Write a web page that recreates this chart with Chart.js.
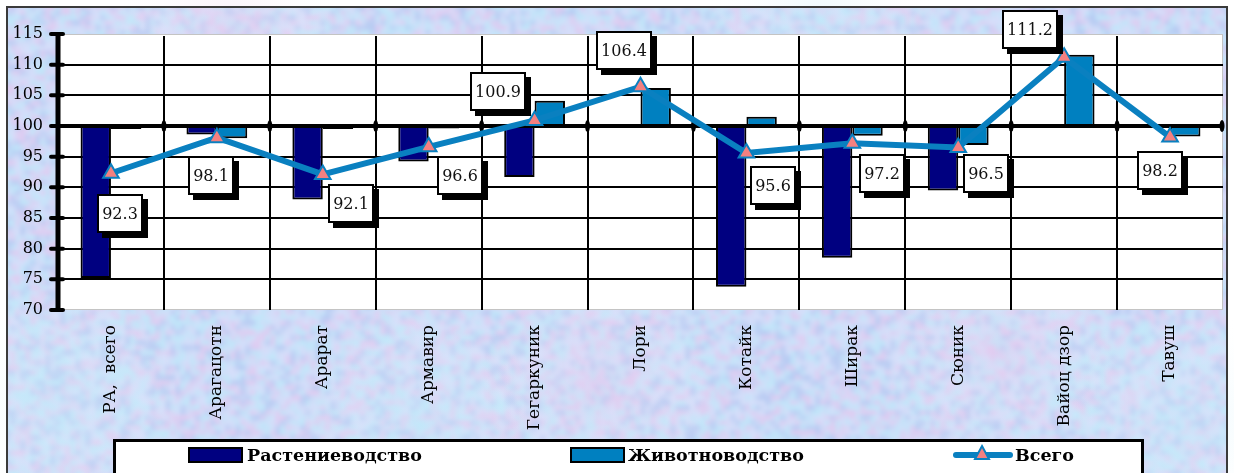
<!DOCTYPE html>
<html><head><meta charset="utf-8">
<script src="https://cdn.jsdelivr.net/npm/chart.js@4"></script>
<style>html,body{margin:0;padding:0;background:#fff;} #wrap{width:1234px;height:473px;overflow:hidden;}</style>
</head><body><div id="wrap"><canvas id="c" width="1234" height="473"></canvas></div>
<script>
// ---- data ----
const categories = ['РА,  всего','Арагацотн','Арарат','Армавир','Гегаркуник','Лори','Котайк','Ширак','Сюник','Вайоц дзор','Тавуш'];
const cropValues = [75.2, 98.6, 88.0, 94.2, 91.7, 100.3, 73.8, 78.5, 89.5, 100.0, 100.0];
const livestockValues = [99.5, 98.0, 99.5, 99.6, 104.1, 106.2, 101.5, 98.4, 96.9, 111.6, 98.3];
const totalValues = [92.3, 98.1, 92.1, 96.6, 100.9, 106.4, 95.6, 97.2, 96.5, 111.2, 98.2];
const yTicks = [70, 75, 80, 85, 90, 95, 100, 105, 110, 115];
const baseValue = 100;
const seriesNames = ['Растениеводство', 'Животноводство', 'Всего'];

// ---- styles ----
const cropColor = '#000080';
const livestockColor = '#0080C0';
const lineColor = '#0A80C0';
const markerColor = '#F48080';
const serif = 'DejaVu Serif';
// label box shift relative to each point (px)
const labelShift = [[9,40],[-6,38],[28,29],[31,29],[-37,-29],[-17,-36],[27,33],[30,30],[28,26],[-34,-28],[-10,33]];

function hash(x, y){ const s = Math.sin(x*127.1 + y*311.7)*43758.5453; return s - Math.floor(s); }
function makeTexture(W, H){
  const t = document.createElement('canvas'); t.width = W; t.height = H;
  const c = t.getContext('2d');
  c.fillStyle = '#C8D8F4'; c.fillRect(0,0,W,H);
  for (let y=0; y<H; y+=5) for (let x=0; x<W; x+=5){
    const h = hash(x,y), g = hash(y+7,x+3);
    let col;
    if (h < 0.22) col = 'rgba(226,202,240,0.6)';
    else if (h < 0.48) col = 'rgba(192,232,250,0.6)';
    else if (h < 0.66) col = 'rgba(180,200,242,0.5)';
    else col = 'rgba(214,224,250,0.45)';
    c.fillStyle = col; c.fillRect(x, y, 5 + Math.round(g*6), 5 + Math.round(h*5));
  }
  return t;
}

const decor = {
  id: 'decor',
  beforeDraw(chart){
    const {ctx, chartArea:a, width, height} = chart;
    ctx.save();
    ctx.fillStyle = '#fff'; ctx.fillRect(0,0,width,height);
    ctx.fillStyle = '#C8D8F4'; ctx.fillRect(8,8,width-16,height-8);
    ctx.save();
    ctx.beginPath(); ctx.rect(8,8,width-16,height-8); ctx.clip();
    ctx.filter = 'blur(2px)';
    ctx.drawImage(makeTexture(width+20, height+20), -10, -10);
    ctx.filter = 'none';
    ctx.restore();
    const blobs = [[230,40,'rgba(232,200,236,0.35)'],[600,380,'rgba(232,200,236,0.3)'],[1000,350,'rgba(232,200,236,0.3)'],[60,400,'rgba(196,236,250,0.35)'],[820,20,'rgba(196,236,250,0.3)'],[1180,420,'rgba(196,236,250,0.35)'],[420,420,'rgba(196,236,250,0.3)']];
    blobs.forEach(([bx,by,c])=>{ const g = ctx.createRadialGradient(bx,by,0,bx,by,120); g.addColorStop(0,c); g.addColorStop(1,'rgba(255,255,255,0)'); ctx.fillStyle=g; ctx.fillRect(bx-120,by-120,240,240); });
    ctx.strokeStyle = '#3a3a3a'; ctx.lineWidth = 2;
    ctx.strokeRect(7, 7, width-14, height);
    ctx.fillStyle = '#fff'; ctx.fillRect(a.left, a.top, a.width, a.height);
    ctx.strokeStyle = '#c4c4c4'; ctx.lineWidth = 1;
    ctx.strokeRect(a.left+0.5, a.top+0.5, a.width-1, a.height-1);
    ctx.restore();
  },
  beforeDatasetsDraw(chart){
    const {ctx, chartArea:a, scales:{x, y}} = chart;
    ctx.save();
    ctx.strokeStyle = '#000'; ctx.lineWidth = 2;
    yTicks.forEach(v => {
      if (v === y.min || v === y.max || v === baseValue) return;
      const py = Math.round(y.getPixelForValue(v));
      ctx.beginPath(); ctx.moveTo(a.left, py); ctx.lineTo(a.right, py); ctx.stroke();
    });
    for (let i = 1; i < categories.length; i++){
      const px = Math.round((x.getPixelForValue(i-1) + x.getPixelForValue(i))/2);
      ctx.beginPath(); ctx.moveTo(px, a.top+2); ctx.lineTo(px, a.bottom); ctx.stroke();
    }
    ctx.restore();
  },
  beforeDatasetDraw(chart, args){
    if (args.index !== 2) return;
    const {ctx, chartArea:a, scales:{x, y}} = chart;
    const py = y.getPixelForValue(baseValue);
    ctx.save();
    ctx.strokeStyle = '#000'; ctx.lineWidth = 4;
    ctx.beginPath(); ctx.moveTo(a.left, py); ctx.lineTo(a.right, py); ctx.stroke();
    ctx.fillStyle = '#000';
    for (let i = 1; i <= categories.length; i++){
      const px = i < categories.length ? (x.getPixelForValue(i-1) + x.getPixelForValue(i))/2 : a.right - 1;
      ctx.beginPath(); ctx.ellipse(px, py, 2.5, 6, 0, 0, Math.PI*2); ctx.fill();
    }
    ctx.restore();
  },
  afterDatasetsDraw(chart){
    const {ctx, chartArea:a, scales:{y}} = chart;
    ctx.save();
    ctx.strokeStyle = '#000'; ctx.lineWidth = 5;
    ctx.beginPath(); ctx.moveTo(a.left, a.top-1); ctx.lineTo(a.left, a.bottom+2); ctx.stroke();
    ctx.lineWidth = 4; ctx.lineCap = 'round';
    yTicks.forEach(v => {
      const py = y.getPixelForValue(v);
      ctx.beginPath(); ctx.moveTo(a.left-7, py); ctx.lineTo(a.left+5, py); ctx.stroke();
    });
    const meta = chart.getDatasetMeta(2);
    ctx.font = '16px "' + serif + '"';
    ctx.textAlign = 'center'; ctx.textBaseline = 'middle';
    meta.data.forEach((pt, i) => {
      const txt = totalValues[i].toFixed(1);
      const w = Math.round(ctx.measureText(txt).width + 10), h = 39;
      const cx = pt.x + labelShift[i][0], cy = pt.y + labelShift[i][1];
      const l = Math.round(cx - w/2), t = Math.round(cy - h/2);
      ctx.fillStyle = '#000'; ctx.fillRect(l+5, t+5, w, h);
      ctx.fillStyle = '#fff'; ctx.fillRect(l, t, w, h);
      ctx.strokeStyle = '#000'; ctx.lineWidth = 2; ctx.lineCap = 'butt';
      ctx.strokeRect(l+1, t+1, w-2, h-2);
      ctx.fillStyle = '#111'; ctx.fillText(txt, l + w/2, t + h/2 + 1);
    });
    ctx.restore();
  },
  afterDraw(chart){
    const {ctx} = chart;
    ctx.save();
    ctx.fillStyle = '#fff'; ctx.fillRect(113, 439, 1030, 40);
    ctx.strokeStyle = '#000'; ctx.lineWidth = 3;
    ctx.strokeRect(114.5, 440.5, 1028, 40);
    ctx.font = 'bold 17.5px "' + serif + '"';
    ctx.textAlign = 'left'; ctx.textBaseline = 'alphabetic';
    const ty = 461;
    ctx.fillStyle = cropColor; ctx.fillRect(189, 448, 53, 14);
    ctx.strokeStyle = '#000'; ctx.lineWidth = 2; ctx.strokeRect(189, 448, 53, 14);
    ctx.fillStyle = '#000'; ctx.fillText(seriesNames[0], 247, ty);
    ctx.fillStyle = livestockColor; ctx.fillRect(571, 448, 53, 14);
    ctx.strokeRect(571, 448, 53, 14);
    ctx.fillStyle = '#000'; ctx.fillText(seriesNames[1], 628, ty);
    ctx.strokeStyle = lineColor; ctx.lineWidth = 6; ctx.lineCap = 'round';
    ctx.beginPath(); ctx.moveTo(956, 455); ctx.lineTo(1010, 455); ctx.stroke();
    ctx.beginPath(); ctx.moveTo(982, 446); ctx.lineTo(989, 459); ctx.lineTo(975, 459); ctx.closePath();
    ctx.fillStyle = markerColor; ctx.fill(); ctx.lineWidth = 2; ctx.strokeStyle = lineColor; ctx.stroke();
    ctx.fillStyle = '#000'; ctx.fillText(seriesNames[2], 1015, ty);
    ctx.restore();
  }
};

new Chart(document.getElementById('c'), {
  type: 'bar',
  data: {
    labels: categories,
    datasets: [
      { type:'bar', label:seriesNames[0], data: cropValues.map(v => [baseValue, v]), backgroundColor:cropColor, borderColor:'#000', borderWidth:2, borderSkipped:false, order:1, categoryPercentage:0.574, barPercentage:1 },
      { type:'bar', label:seriesNames[1], data: livestockValues.map(v => [baseValue, v]), backgroundColor:livestockColor, borderColor:'#000', borderWidth:2, borderSkipped:false, order:2, categoryPercentage:0.574, barPercentage:1 },
      { type:'line', label:seriesNames[2], data: totalValues, borderColor:lineColor, borderWidth:6, tension:0, pointStyle:'triangle', pointRadius:9, pointBackgroundColor:markerColor, pointBorderColor:lineColor, pointBorderWidth:2, order:0 }
    ]
  },
  options: {
    responsive:false, devicePixelRatio:1, animation:false, events:[],
    layout:{ padding:{ left:0, right:7, top:34, bottom:0 } },
    plugins:{ legend:{ display:false }, tooltip:{ enabled:false } },
    scales:{
      x:{ offset:true, grid:{ display:false, drawTicks:false }, border:{ display:false },
          ticks:{ autoSkip:false, minRotation:90, maxRotation:90, padding:15, color:'#000', font:{ family:serif, size:17 } },
          afterFit(s){ s.height = 163; } },
      y:{ min:70, max:115, grid:{ display:false, drawTicks:false }, border:{ display:false },
          afterBuildTicks(s){ s.ticks = yTicks.map(v => ({ value:v })); },
          ticks:{ padding:15, color:'#000', font:{ family:serif, size:16 } },
          afterFit(s){ s.width = 58; } }
    }
  },
  plugins:[decor]
});
</script></body></html>
